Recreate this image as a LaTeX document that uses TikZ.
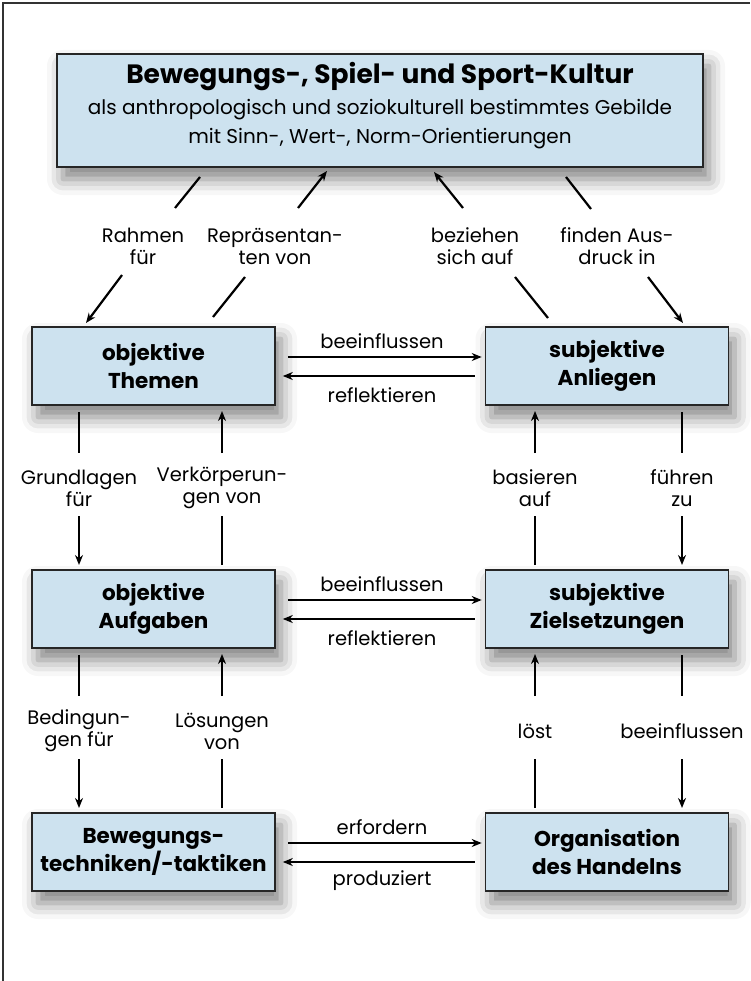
\documentclass[tikz,border=0pt]{standalone}
\usepackage{fontspec}
\setmainfont{Poppins}
\usetikzlibrary{arrows.meta,shadows.blur}
\definecolor{boxblue}{RGB}{205,226,239}
\begin{document}
\begin{tikzpicture}[x=1pt,y=-1pt,
  box/.style={draw=black!85, line width=1.6pt, fill=boxblue,
    blur shadow={shadow xshift=6pt, shadow yshift=-12pt, shadow blur radius=16pt, shadow opacity=50},
    minimum width=243pt, minimum height=78pt, inner sep=0pt, align=center,
    font=\bfseries\fontsize{21.5}{28}\selectfont},
  lbl/.style={align=center, font=\fontsize{19.5}{22}\selectfont, inner sep=0pt},
  con/.style={line width=2.2pt, black},
  arr/.style={con, -{Stealth[length=10pt,width=8pt]}},
]
\useasboundingbox (0,0) rectangle (750,981);
\draw[line width=1.6pt, black!80] (3,981) -- (3,3) -- (750,3);

% top box
\node[box, minimum width=646pt, minimum height=113pt] (top) at (380,110.5) {};
\node[inner sep=0pt, font=\bfseries\fontsize{26.5}{30}\selectfont] (t1) at (380,77) {Bewegungs-, Spiel- und Sport-Kultur};
\node[inner sep=0pt, font=\fontsize{20}{23}\selectfont] (t2) at (380,110) {als anthropologisch und soziokulturell bestimmtes Gebilde};
\node[inner sep=0pt, font=\fontsize{20}{23}\selectfont] (t3) at (380,139) {mit Sinn-, Wert-, Norm-Orientierungen};

% boxes
\node[box] (ot) at (153.5,366) {objektive\\Themen};
\node[box] (sa) at (607,366) {subjektive\\Anliegen};
\node[box] (oa) at (153.5,609) {objektive\\Aufgaben};
\node[box] (sz) at (607,609) {subjektive\\Zielsetzungen};
\node[box] (bt) at (153.5,852) {Bewegungs-\\techniken/-taktiken};
\node[box] (oh) at (607,852) {Organisation\\des Handelns};

% horizontal connectors
\foreach \l/\r/\c/\up/\dn in {ot/sa/366/beeinflussen/reflektieren, oa/sz/609/beeinflussen/reflektieren, bt/oh/852/erfordern/produziert}{
  \draw[arr, shorten <=12pt, shorten >=3pt] ([yshift=9pt]\l.east) -- ([yshift=9pt]\r.west);
  \draw[arr, shorten <=10pt, shorten >=7pt] ([yshift=-10pt]\r.west) -- ([yshift=-10pt]\l.east);
  \node[lbl] at (382,\c-25) {\up};
  \node[lbl] at (382,\c+29) {\dn};
}

% diagonal connectors
\node[lbl] (lRa) at (143,246) {Rahmen\\für};
\node[lbl] (lRe) at (275,246) {Repräsentan-\\ten von};
\node[lbl] (lBe) at (475,246) {beziehen\\sich auf};
\node[lbl] (lFi) at (617,246) {finden Aus-\\druck in};
\coordinate (d1a) at (200,177); \coordinate (d1b) at (175,208);
\coordinate (d1c) at (122,275); \coordinate (d1d) at (86,323);
\coordinate (d2a) at (213,317); \coordinate (d2b) at (245,277);
\coordinate (d2c) at (298,208); \coordinate (d2d) at (327,171);
\coordinate (d3a) at (548,318); \coordinate (d3b) at (515,277);
\coordinate (d3c) at (463,208); \coordinate (d3d) at (434,172);
\coordinate (d4a) at (566,177); \coordinate (d4b) at (591,209);
\coordinate (d4c) at (648,277); \coordinate (d4d) at (683,323);
\draw[con] (d1a) -- (d1b); \draw[arr] (d1c) -- (d1d);
\draw[con] (d2a) -- (d2b); \draw[arr] (d2c) -- (d2d);
\draw[con] (d3a) -- (d3b); \draw[arr] (d3c) -- (d3d);
\draw[con] (d4a) -- (d4b); \draw[arr] (d4c) -- (d4d);

% vertical connectors
\foreach \b/\n/\la/\lb/\lc/\ld in {405/1/{Grundlagen\\für}/{Verkörperun-\\gen von}/{basieren\\auf}/{führen\\zu},
                                   648/2/{Bedingun-\\gen für}/{Lösungen\\von}/{löst}/{beeinflussen}}{
  \node[lbl] at (79,\b+83) {\la};
  \node[lbl] at (222,\b+83) {\lb};
  \node[lbl] at (535,\b+83) {\lc};
  \node[lbl] at (682,\b+83) {\ld};
  \foreach \x in {79,682}{
    \coordinate (va) at (\x,\b+7); \coordinate (vb) at (\x,\b+48);
    \coordinate (vc) at (\x,\b+111); \coordinate (vd) at (\x,\b+160);
    \draw[con] (va) -- (vb); \draw[arr] (vc) -- (vd);
  }
  \foreach \x in {222,535}{
    \coordinate (va) at (\x,\b+160); \coordinate (vb) at (\x,\b+111);
    \coordinate (vc) at (\x,\b+48); \coordinate (vd) at (\x,\b+6);
    \draw[con] (va) -- (vb); \draw[arr] (vc) -- (vd);
  }
}
\end{tikzpicture}
\end{document}
